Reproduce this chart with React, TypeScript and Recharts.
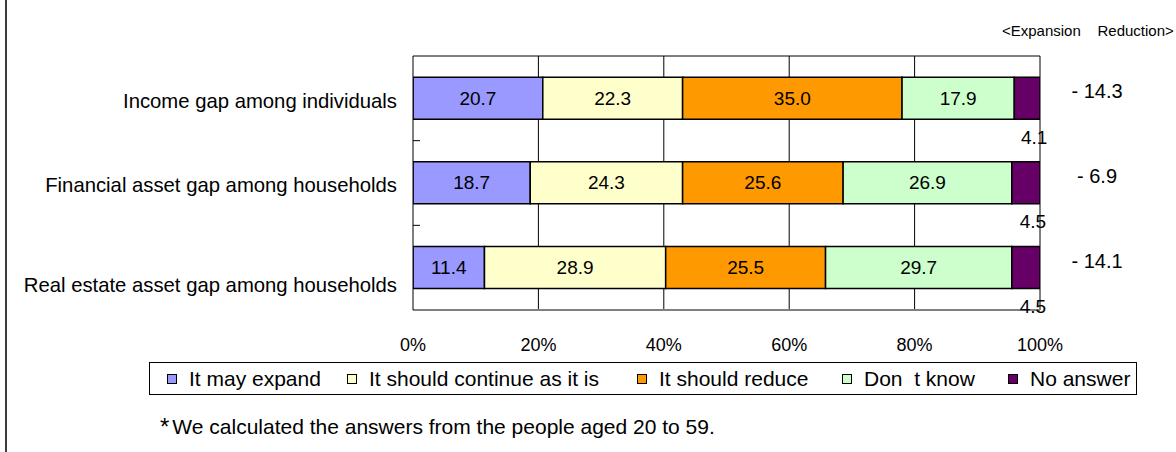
import type { FC } from 'react';
import {
  BarChart,
  Bar,
  XAxis,
  YAxis,
  CartesianGrid,
  LabelList,
} from 'recharts';

const categories = [
  'Income gap among individuals',
  'Financial asset gap among households',
  'Real estate asset gap among households',
];

const mayExpand = [20.7, 18.7, 11.4];
const continueAsIs = [22.3, 24.3, 28.9];
const shouldReduce = [35.0, 25.6, 25.5];
const dontKnow = [17.9, 26.9, 29.7];
const noAnswer = [4.1, 4.5, 4.5];

// expansion minus reduction, printed right of each bar
const balance = [-14.3, -6.9, -14.1];

const xTicks = [0, 20, 40, 60, 80, 100];

const series = [
  { key: 'mayExpand', name: 'It may expand', color: '#9999FF' },
  { key: 'continueAsIs', name: 'It should continue as it is', color: '#FFFFCC' },
  { key: 'shouldReduce', name: 'It should reduce', color: '#FF9900' },
  { key: 'dontKnow', name: 'Don  t know', color: '#CCFFCC' },
  { key: 'noAnswer', name: 'No answer', color: '#660066' },
];

const data = categories.map((category, i) => ({
  category,
  mayExpand: mayExpand[i],
  continueAsIs: continueAsIs[i],
  shouldReduce: shouldReduce[i],
  dontKnow: dontKnow[i],
  noAnswer: noAnswer[i],
}));

const FONT = '"Liberation Sans", Arial, sans-serif';

// category labels sit a little low in the original, the last one more so
const labelNudge = [3, 2, 17];
// legend slot widths, so the items land where the original has them
const legendSlot = [180, 290, 205, 166, 120];

const TICK_SIZE = 6;
const TICK_MARGIN = 10;

const CategoryTick: FC<any> = ({ x, y, payload, index, visibleTicksCount }) => {
  const axisX = Number(x) + TICK_SIZE + TICK_MARGIN;
  const half = Number(payload?.offset) || 0;
  const last = (visibleTicksCount ?? categories.length) - 1;
  return (
    <g>
      <text
        x={x}
        y={y + (labelNudge[index] ?? 0)}
        textAnchor="end"
        dominantBaseline="central"
        fontSize={20.3}
        fontFamily={FONT}
        fill="#000"
      >
        {payload.value}
      </text>
      {half > 0 && index < last && (
        <line x1={axisX} x2={axisX + 7} y1={y + half} y2={y + half} stroke="#000" />
      )}
    </g>
  );
};

const InsideLabel: FC<any> = ({ x, y, width, height, value }) => (
  <text
    x={Number(x) + Number(width) / 2}
    y={Number(y) + Number(height) / 2}
    textAnchor="middle"
    dominantBaseline="central"
    fontSize={19}
    fontFamily={FONT}
    fill="#000"
  >
    {Number(value).toFixed(1)}
  </text>
);

const BelowLabel: FC<any> = ({ x, y, width, height, value }) => (
  <text
    x={Number(x) + Number(width) / 2 + 7}
    y={Number(y) + Number(height) + 18}
    textAnchor="middle"
    dominantBaseline="central"
    fontSize={19}
    fontFamily={FONT}
    fill="#000"
  >
    {Number(value).toFixed(1)}
  </text>
);

const BalanceLabel: FC<any> = ({ x, y, width, height, index }) => {
  const v = balance[index];
  return (
    <text
      x={Number(x) + Number(width) + 57}
      y={Number(y) + Number(height) / 2 - 7}
      textAnchor="middle"
      dominantBaseline="central"
      fontSize={20}
      fontFamily={FONT}
      fill="#000"
    >
      {`${v < 0 ? '- ' : ''}${Math.abs(v).toFixed(1)}`}
    </text>
  );
};

const LegendBox: FC = () => (
  <div
    style={{
      position: 'absolute',
      left: 149,
      top: 362,
      width: 988,
      height: 33,
      boxSizing: 'border-box',
      border: '1px solid #000',
      display: 'flex',
      alignItems: 'center',
      paddingLeft: 17,
      fontFamily: FONT,
      fontSize: 21,
      color: '#000',
      whiteSpace: 'pre',
    }}
  >
    {series.map((s, i) => (
      <div key={s.key} style={{ display: 'flex', alignItems: 'center', width: legendSlot[i], flex: 'none' }}>
        <div
          style={{
            width: 8,
            height: 8,
            border: '1px solid #000',
            background: s.color,
            marginRight: 12,
            flex: 'none',
          }}
        />
        <span>{s.name}</span>
      </div>
    ))}
  </div>
);

export default function App() {
  return (
    <div
      style={{
        position: 'absolute',
        left: 0,
        top: 0,
        width: 1176,
        height: 452,
        background: '#fff',
        fontFamily: FONT,
        overflow: 'hidden',
      }}
    >
      <div style={{ position: 'absolute', left: 5, top: 0, width: 2, height: 452, background: '#3c3c3c' }} />

      <div
        style={{
          position: 'absolute',
          left: 1002,
          top: 23,
          fontSize: 15,
          lineHeight: '16px',
          whiteSpace: 'pre',
          color: '#000',
        }}
      >
        {'<Expansion    Reduction>'}
      </div>

      <BarChart
        width={1176}
        height={452}
        data={data}
        layout="vertical"
        margin={{ top: 55, right: 136, bottom: 102, left: 0 }}
        barCategoryGap="25%"
        style={{ position: 'absolute', left: 0, top: 0 }}
      >
        <CartesianGrid horizontal={false} verticalValues={[20, 40, 60, 80]} stroke="#000" />
        <CartesianGrid horizontal={false} verticalValues={[100]} stroke="#808080" strokeWidth={2} />
        <XAxis
          type="number"
          domain={[0, 100]}
          allowDataOverflow
          ticks={xTicks}
          tickFormatter={(v) => `${v}%`}
          tick={{ fill: '#000', fontSize: 18, fontFamily: FONT }}
          tickLine={false}
          tickMargin={22}
          axisLine={{ stroke: '#808080', strokeWidth: 2 }}
          height={40}
        />
        <XAxis
          xAxisId="top"
          orientation="top"
          type="number"
          domain={[0, 100]}
          height={1}
          tick={false}
          tickLine={false}
          axisLine={{ stroke: '#000' }}
        />
        <YAxis
          type="category"
          dataKey="category"
          width={413}
          tick={<CategoryTick />}
          tickLine={false}
          tickSize={TICK_SIZE}
          tickMargin={TICK_MARGIN}
          axisLine={{ stroke: '#000' }}
        />
        {series.map((s) => (
          <Bar
            key={s.key}
            dataKey={s.key}
            name={s.name}
            stackId="a"
            fill={s.color}
            stroke="#000"
            strokeWidth={1.5}
            isAnimationActive={false}
          >
            {s.key === 'noAnswer' ? (
              <>
                <LabelList dataKey={s.key} content={<BelowLabel />} />
                <LabelList dataKey={s.key} content={<BalanceLabel />} />
              </>
            ) : (
              <LabelList dataKey={s.key} content={<InsideLabel />} />
            )}
          </Bar>
        ))}
      </BarChart>

      <LegendBox />

      <div
        style={{
          position: 'absolute',
          left: 160,
          top: 415,
          fontSize: 21,
          lineHeight: '24px',
          whiteSpace: 'pre',
          color: '#000',
          display: 'flex',
          alignItems: 'center',
        }}
      >
        <span style={{ fontSize: 24, marginRight: 3 }}>*</span>
        <span>We calculated the answers from the people aged 20 to 59.</span>
      </div>
    </div>
  );
}
